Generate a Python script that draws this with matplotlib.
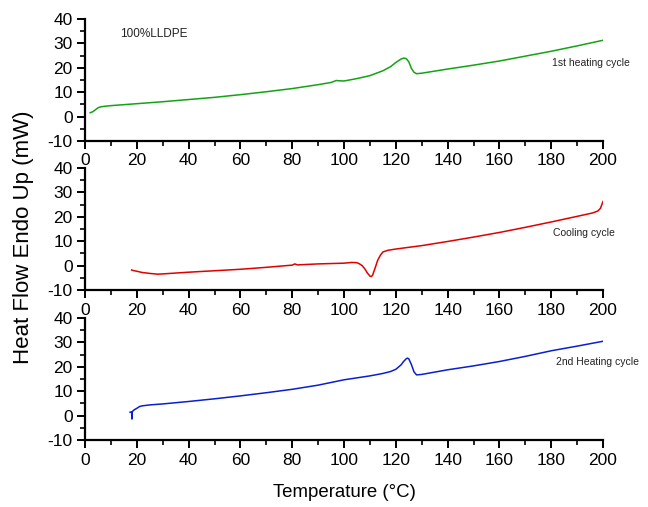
import matplotlib
matplotlib.use("Agg")
import matplotlib.pyplot as plt
from matplotlib.ticker import MultipleLocator

plt.rcParams['font.family'] = ['Liberation Sans', 'DejaVu Sans']
plt.rcParams['axes.unicode_minus'] = False

# 1st heating cycle (green)
heat1_x = [2, 3, 4, 5, 6, 8, 10, 15, 20, 30, 40, 50, 60, 70, 80, 90, 95, 97, 98, 100,
           105, 110, 115, 118, 120, 122, 123, 124, 125, 126, 127, 128, 130, 140, 150,
           160, 170, 180, 190, 200]
heat1_y = [1.6, 2.0, 2.8, 3.6, 4.0, 4.3, 4.5, 4.9, 5.3, 6.1, 7.0, 7.9, 9.0, 10.2, 11.5,
           13.1, 14.0, 14.8, 14.7, 14.6, 15.6, 16.8, 18.8, 20.5, 22.2, 23.6, 24.0, 23.8,
           22.5, 19.8, 18.2, 17.6, 17.8, 19.5, 21.1, 22.8, 24.8, 26.8, 29.0, 31.3]

# Cooling cycle (red)
cool_x = [18, 19, 20, 22, 25, 28, 30, 40, 50, 60, 70, 80, 81, 82, 90, 100, 103, 105, 106,
          107, 108, 109, 110, 110.5, 111, 112, 113, 114, 115, 117, 120, 130, 140, 150, 160,
          170, 180, 190, 196, 198, 199, 200]
cool_y = [-1.8, -2.1, -2.3, -2.8, -3.2, -3.5, -3.4, -2.7, -2.1, -1.5, -0.7, 0.2, 0.7, 0.3,
          0.7, 1.0, 1.3, 1.2, 0.7, 0.0, -1.3, -3.0, -4.3, -4.5, -4.0, -1.0, 2.2, 4.2, 5.6,
          6.3, 6.8, 8.2, 9.9, 11.7, 13.6, 15.7, 17.9, 20.2, 21.6, 22.4, 23.5, 26.3]

# 2nd heating cycle (blue)
heat2_x = [17.4, 18.0, 18.1, 18.2, 19, 20, 21, 22, 25, 30, 40, 50, 60, 70, 80, 90, 100,
           110, 115, 118, 120, 122, 123, 124, 124.5, 125, 126, 127, 128, 130, 140, 150,
           160, 170, 180, 190, 200]
heat2_y = [1.4, 1.5, -1.4, 1.6, 2.4, 3.0, 3.7, 4.0, 4.4, 4.8, 5.8, 6.9, 8.1, 9.4, 10.8,
           12.5, 14.7, 16.3, 17.3, 18.1, 19.0, 20.8, 22.2, 23.3, 23.6, 23.3, 21.0, 18.0,
           16.7, 16.9, 18.8, 20.4, 22.2, 24.3, 26.6, 28.5, 30.5]

x_ticks = [0, 20, 40, 60, 80, 100, 120, 140, 160, 180, 200]
y_ticks = [-10, 0, 10, 20, 30, 40]

series = [
    (heat1_x, heat1_y, '#13a313', '1st heating cycle', (180.2, 22.0)),
    (cool_x, cool_y, '#e00000', 'Cooling cycle', (180.7, 13.3)),
    (heat2_x, heat2_y, '#0a1fd0', '2nd Heating cycle', (181.9, 22.2)),
]

fig = plt.figure(figsize=(6.48, 5.07), dpi=100)
left, width = 0.1312, 0.7994
bottoms = [0.7219, 0.428, 0.1321]
height = 0.2405

for i, (xs, ys, col, lab, pos) in enumerate(series):
    ax = fig.add_axes([left, bottoms[i], width, height])
    ax.patch.set_alpha(0)
    ax.plot(xs, ys, color=col, lw=1.1)
    ax.set_xlim(0, 200)
    ax.set_ylim(-10, 40)
    ax.set_xticks(x_ticks)
    ax.set_yticks(y_ticks)
    ax.xaxis.set_minor_locator(MultipleLocator(10))
    ax.yaxis.set_minor_locator(MultipleLocator(5))
    for s in ['top', 'right']:
        ax.spines[s].set_visible(False)
    for s in ['left', 'bottom']:
        ax.spines[s].set_linewidth(1.6)
    ax.tick_params(which='major', length=6, width=1.4, labelsize=12.5, pad=3)
    ax.tick_params(which='minor', length=3.5, width=1.2)
    ax.text(pos[0], pos[1], lab, fontsize=7.5, ha='left', va='center', color='#222222')
    if i == 0:
        ax.text(13.5, 34, '100%LLDPE', fontsize=8.5, ha='left', va='center', color='#222222')

fig.text(0.037, 0.5325, 'Heat Flow Endo Up (mW)', rotation=90, fontsize=16,
         ha='center', va='center')
fig.text(0.531, 0.028, 'Temperature (°C)', fontsize=13.4, ha='center', va='center')

fig.savefig('out.png', dpi=100)
